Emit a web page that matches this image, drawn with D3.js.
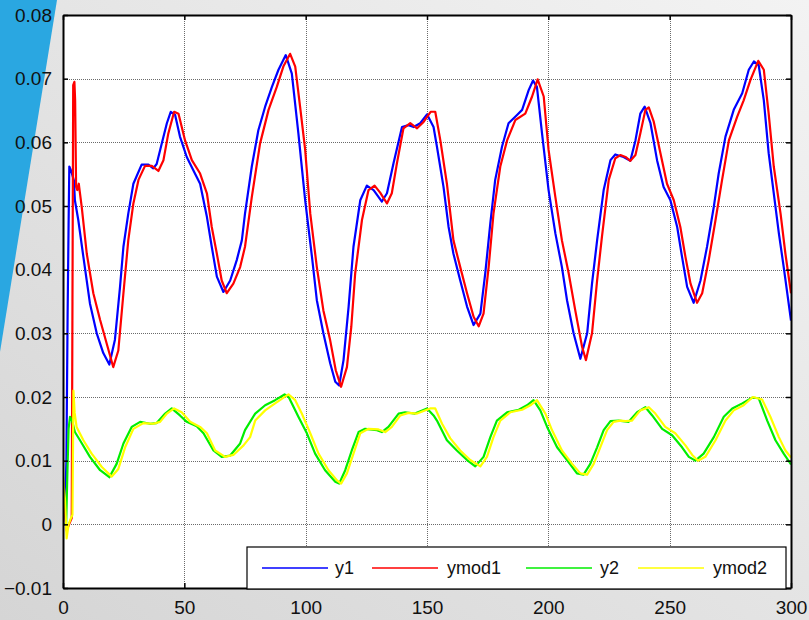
<!DOCTYPE html>
<html>
<head>
<meta charset="utf-8">
<script src="https://cdn.jsdelivr.net/npm/d3@7"></script>
<style>
  html, body { margin: 0; padding: 0; background: #e6e6e6; }
  svg { display: block; }
</style>
</head>
<body>
<svg id="chart" width="809" height="620"></svg>
<script>
// Axis ticks
const xTicks = [0, 50, 100, 150, 200, 250, 300];
const yTicks = [-0.01, 0, 0.01, 0.02, 0.03, 0.04, 0.05, 0.06, 0.07, 0.08];
const seriesNames = ["y1", "ymod1", "y2", "ymod2"];
const seriesColors = ["#0000ff", "#ff0000", "#00ee00", "#ffff00"];

// Series as [time, value] pairs
const y1 = [[0,0.0],[1.0,0.004],[1.4,0.010],[1.9,0.033],[2.3,0.047],[2.6,0.0562],[3.3,0.0556],[4.5,0.054],[4.9,0.0509],[6.3,0.0478],[8.4,0.042],[11.1,0.0347],[13.9,0.030],[16.6,0.0269],[19.1,0.0251],[21.4,0.029],[23.5,0.0373],[24.9,0.0436],[26.9,0.0488],[29,0.0535],[32.4,0.0565],[35.2,0.0565],[37.2,0.0559],[38.6,0.0566],[40.7,0.0598],[42.8,0.063],[44.4,0.0648],[46.2,0.0643],[48.2,0.0609],[51,0.0577],[53.7,0.0556],[56.5,0.0535],[59.3,0.0483],[61.3,0.0436],[63.4,0.0389],[66.1,0.0365],[68.9,0.0383],[71.6,0.0415],[73.7,0.0446],[75,0.0488],[77.8,0.0562],[80.5,0.0619],[83.3,0.0656],[86.1,0.0687],[88.8,0.0714],[91.8,0.0737],[94.3,0.0708],[97,0.0614],[99.8,0.0509],[102.6,0.042],[104.6,0.0352],[107.3,0.030],[110.1,0.0253],[112.2,0.0224],[113.8,0.0218],[115.6,0.0258],[117.7,0.0342],[119.7,0.0436],[122.5,0.0509],[125.2,0.0532],[128,0.0525],[131.4,0.0507],[133.5,0.052],[136.2,0.0567],[139.7,0.0624],[142.4,0.0627],[144.5,0.0624],[147.2,0.063],[150,0.0644],[152.7,0.0624],[154.1,0.0593],[156.8,0.053],[158.9,0.0467],[160.9,0.0425],[163.7,0.0383],[166.5,0.0342],[169.2,0.0313],[172,0.0331],[174,0.0394],[176.1,0.0473],[178.1,0.0541],[180.9,0.0593],[183.6,0.063],[187.1,0.0643],[189.2,0.0651],[191.9,0.0682],[193.7,0.0697],[195.3,0.0687],[197.4,0.0614],[200.1,0.0525],[202.9,0.0457],[205.6,0.0404],[207.7,0.0352],[210.4,0.030],[213.2,0.026],[216,0.030],[218,0.0378],[220.1,0.0446],[222.8,0.0525],[225.6,0.0572],[227.6,0.0581],[231,0.0577],[233.8,0.0571],[235.9,0.0603],[237.9,0.0645],[239.7,0.0656],[242.1,0.063],[244.8,0.0572],[247.5,0.053],[250.3,0.0509],[253.1,0.0467],[255.1,0.042],[257.2,0.0373],[259.9,0.0348],[262.7,0.0383],[265.4,0.0436],[268.2,0.0499],[270.2,0.0551],[273,0.0609],[276.4,0.0651],[279.9,0.0677],[282.6,0.0714],[284.7,0.0727],[286.7,0.0721],[288.8,0.0666],[290.8,0.0583],[292.9,0.052],[295,0.0457],[297,0.0404],[300,0.032]];

const ymod1 = [[0,0.006],[0.8,0.002],[1.5,-0.001],[2.5,0.0],[3.6,0.001],[3.9,0.035],[4.2,0.069],[4.7,0.0695],[5.0,0.0666],[5.4,0.053],[5.9,0.0525],[6.5,0.0535],[7.0,0.052],[7.7,0.0499],[9.8,0.0425],[12.5,0.0363],[15.3,0.0321],[18,0.0284],[20.7,0.0247],[22.8,0.0273],[24.9,0.0363],[26.9,0.0446],[29,0.0504],[31.1,0.0541],[33.8,0.0563],[36.6,0.0563],[39.3,0.0555],[41.4,0.0572],[43.4,0.0614],[45.8,0.0648],[47.6,0.0645],[50.3,0.0603],[53.1,0.0572],[56.5,0.0551],[59.3,0.052],[61.3,0.0467],[63.4,0.0425],[65.4,0.0383],[67.5,0.0363],[70.2,0.0378],[73,0.0404],[75,0.0436],[77.8,0.0514],[81.2,0.0598],[84.7,0.0651],[88.1,0.0687],[90.8,0.0719],[93.6,0.0739],[95.7,0.0719],[97.7,0.0656],[99.8,0.0588],[101.9,0.0488],[104.6,0.0404],[107.3,0.0336],[110.1,0.0289],[112.4,0.0242],[114.6,0.0216],[117,0.0247],[118.8,0.031],[120.4,0.0394],[123.2,0.0478],[125.9,0.0525],[128.4,0.0532],[130.7,0.0521],[133.5,0.0504],[135.5,0.052],[137.6,0.0567],[140.3,0.0622],[143.1,0.063],[145.9,0.0622],[148.6,0.0632],[151.5,0.0648],[153.4,0.0648],[155.5,0.0603],[158.2,0.0535],[160.9,0.0446],[163.7,0.0404],[166.5,0.0363],[169.2,0.0326],[171.3,0.0311],[173.3,0.0331],[175.4,0.0404],[177.4,0.0488],[180.2,0.0562],[183,0.0603],[186.4,0.0635],[190.5,0.0645],[193.3,0.0672],[195.6,0.0699],[198.1,0.0672],[200.1,0.0588],[202.9,0.0514],[205.6,0.0446],[208.4,0.0394],[211.1,0.0336],[213.9,0.0279],[215.5,0.0258],[218,0.030],[220.1,0.0383],[222.1,0.0452],[224.9,0.0541],[227.6,0.0575],[229.7,0.058],[231.8,0.0577],[233.8,0.0571],[235.9,0.058],[237.9,0.0614],[240,0.0651],[241.4,0.0655],[243.4,0.0633],[246.2,0.0583],[248.9,0.0535],[251.7,0.0509],[254.4,0.0467],[256.5,0.042],[258.6,0.0378],[261.3,0.0348],[263.4,0.0363],[266.1,0.0415],[268.9,0.0478],[271.6,0.0541],[274.4,0.0603],[277.8,0.064],[280.5,0.0666],[283.3,0.0698],[286.5,0.0728],[288.8,0.0714],[290.8,0.0645],[292.9,0.0562],[295.7,0.0488],[297.7,0.0425],[300,0.0363]];

const y2 = [[0,0.0],[1.3,0.0],[1.8,0.008],[2.3,0.015],[2.9,0.0169],[3.8,0.0162],[4.9,0.0145],[7,0.0132],[11.1,0.0106],[15.3,0.0085],[19.1,0.0074],[22.1,0.0095],[24.9,0.0127],[28.3,0.0153],[31.8,0.0161],[35.9,0.0158],[38.6,0.0159],[42.1,0.0174],[44.8,0.0182],[48.2,0.0171],[51,0.0161],[55.1,0.0154],[57.9,0.0143],[62,0.0116],[65.4,0.0106],[68.9,0.0108],[73,0.0127],[75,0.0148],[79.2,0.0174],[83.3,0.0187],[87.4,0.0195],[91.3,0.0204],[93,0.0200],[97,0.0169],[100.5,0.0143],[103.9,0.0111],[108,0.0085],[112.2,0.0067],[113.8,0.0064],[116.3,0.0085],[119,0.0116],[121.8,0.0145],[124.5,0.015],[129.4,0.0148],[131.4,0.0145],[134.1,0.0153],[138.3,0.0174],[141,0.0176],[145,0.0174],[150,0.0182],[152.7,0.0171],[154.1,0.0163],[158.2,0.0132],[162.3,0.0116],[166.5,0.0101],[169.9,0.0091],[173.3,0.0106],[176.1,0.0137],[178.8,0.0163],[183,0.0176],[187.8,0.018],[191.2,0.0187],[193.9,0.0195],[196.7,0.0179],[199.5,0.0153],[203.6,0.0121],[207.7,0.0101],[211.8,0.008],[214.5,0.0078],[217.3,0.0095],[220.1,0.0121],[222.8,0.0148],[225.6,0.0162],[229,0.0163],[233.1,0.0161],[236.6,0.0176],[240,0.0184],[242.8,0.0171],[246.9,0.015],[251,0.014],[255.1,0.0121],[257.9,0.0106],[260.6,0.01],[264,0.0111],[268.2,0.0137],[272.3,0.0169],[275.8,0.0182],[279.9,0.019],[284,0.0199],[286.7,0.0198],[290.2,0.0163],[293.6,0.0132],[297,0.0111],[300,0.0094]];

const ymod2 = [[0,0.0075],[0.8,0.004],[1.5,-0.0022],[2.3,0.0],[3.3,0.001],[3.9,0.0015],[4.3,0.021],[4.8,0.0175],[5.6,0.0153],[8.4,0.0132],[11.8,0.0111],[16,0.009],[20.1,0.0075],[22.8,0.0087],[25.6,0.0121],[29,0.015],[33.1,0.0159],[37.2,0.0158],[40,0.0161],[42.8,0.0174],[45.8,0.0182],[48.9,0.0176],[52.4,0.0161],[56.5,0.0153],[59.3,0.0143],[62.7,0.0116],[66.8,0.0106],[70.2,0.0109],[74.4,0.0124],[77.1,0.0137],[79.2,0.0163],[83.3,0.0179],[87.4,0.019],[92.9,0.0204],[95.7,0.0195],[98.4,0.0174],[101.9,0.0143],[105.3,0.0111],[109.4,0.0085],[112.9,0.0069],[114.6,0.0064],[117,0.008],[119.7,0.0111],[122.5,0.0143],[125.9,0.015],[130,0.0149],[132.8,0.0145],[135.5,0.0153],[139,0.0171],[142.4,0.0175],[145.9,0.0174],[151.3,0.0182],[153.4,0.0182],[156.2,0.0158],[159.6,0.0135],[163.7,0.0116],[167.8,0.0101],[172,0.0091],[174.7,0.0106],[177.4,0.0137],[180.2,0.0163],[184.3,0.0176],[189.2,0.018],[192.6,0.0187],[195.3,0.0195],[198.8,0.0174],[201.5,0.0148],[205.6,0.0116],[209.8,0.0095],[213.2,0.008],[216,0.0078],[218.7,0.0095],[221.4,0.0121],[224.2,0.0148],[226.9,0.0161],[229.7,0.0163],[231.8,0.0162],[234.5,0.0163],[237.9,0.0179],[241.4,0.0184],[244.1,0.0174],[248.2,0.0153],[252.3,0.0143],[256.5,0.0124],[259.3,0.0109],[261.7,0.01],[264.7,0.0106],[268.9,0.0132],[273,0.0163],[276.4,0.0179],[280.5,0.0187],[284.3,0.02],[288.1,0.0196],[291.5,0.0169],[295,0.0137],[297.7,0.0116],[300,0.0105]];

const svg = d3.select("#chart");
const W = 809, H = 620;
const plot = { left: 63, right: 791, top: 15, bottom: 588 };

// Slide-style backdrop: soft grey gradient with a blue diagonal band on the left
const defs = svg.append("defs");
const bg = defs.append("linearGradient").attr("id", "bgGrad")
  .attr("x1", "0%").attr("y1", "100%").attr("x2", "100%").attr("y2", "0%");
bg.append("stop").attr("offset", "0%").attr("stop-color", "#d5d5d5");
bg.append("stop").attr("offset", "100%").attr("stop-color", "#f3f3f3");
svg.append("rect").attr("width", W).attr("height", H).attr("fill", "url(#bgGrad)");
svg.append("path").attr("d", "M0,0 L57,0 L0,352 Z").attr("fill", "#2aa7e1");

defs.append("clipPath").attr("id", "plotClip").append("rect")
  .attr("x", plot.left).attr("y", plot.top)
  .attr("width", plot.right - plot.left).attr("height", plot.bottom - plot.top);

const x = d3.scaleLinear().domain([0, 300]).range([plot.left, plot.right]);
const y = d3.scaleLinear().domain([-0.01, 0.08]).range([plot.bottom, plot.top]);

// Plot area
svg.append("rect").attr("x", plot.left).attr("y", plot.top)
  .attr("width", plot.right - plot.left).attr("height", plot.bottom - plot.top)
  .attr("fill", "#ffffff");

// Dotted grid
const grid = svg.append("g").attr("stroke", "#6a6a6a").attr("stroke-width", 1)
  .attr("stroke-dasharray", "1,1").attr("shape-rendering", "crispEdges");
grid.selectAll("line.gx").data(xTicks.filter(d => d > 0 && d < 300)).join("line")
  .attr("x1", d => Math.round(x(d)) + 0.5).attr("x2", d => Math.round(x(d)) + 0.5)
  .attr("y1", plot.top).attr("y2", plot.bottom);
grid.selectAll("line.gy").data(yTicks.filter(d => d > -0.01 && d < 0.08)).join("line")
  .attr("y1", d => Math.round(y(d)) + 0.5).attr("y2", d => Math.round(y(d)) + 0.5)
  .attr("x1", plot.left).attr("x2", plot.right);

// Data lines
const line = d3.line().x(d => x(d[0])).y(d => y(d[1])).curve(d3.curveLinear);
const seriesData = [y1, ymod1, y2, ymod2];
svg.append("g").attr("clip-path", "url(#plotClip)")
  .selectAll("path").data(seriesData).join("path")
  .attr("d", line)
  .attr("fill", "none")
  .attr("stroke", (d, i) => seriesColors[i])
  .attr("stroke-width", 2.2)
  .attr("stroke-linejoin", "round");

// Axes with inward ticks on all four sides
const fmtY = d => d === 0 ? "0" : d3.format(".2f")(d);
const axisFont = "'Liberation Sans', Arial, sans-serif";

const leftAxis = svg.append("g").attr("transform", `translate(${plot.left},0)`)
  .call(d3.axisLeft(y).tickValues(yTicks).tickFormat(fmtY).tickSizeInner(-5).tickSizeOuter(0).tickPadding(11));
const rightAxis = svg.append("g").attr("transform", `translate(${plot.right},0)`)
  .call(d3.axisRight(y).tickValues(yTicks).tickFormat("").tickSizeInner(-5).tickSizeOuter(0));
const bottomAxis = svg.append("g").attr("transform", `translate(0,${plot.bottom})`)
  .call(d3.axisBottom(x).tickValues(xTicks).tickFormat(d3.format("d")).tickSizeInner(-5).tickSizeOuter(0).tickPadding(13));
const topAxis = svg.append("g").attr("transform", `translate(0,${plot.top})`)
  .call(d3.axisTop(x).tickValues(xTicks).tickFormat("").tickSizeInner(-5).tickSizeOuter(0));

[leftAxis, rightAxis, bottomAxis, topAxis].forEach(g => {
  g.select(".domain").attr("stroke", "#000").attr("stroke-width", 2);
  g.selectAll(".tick line").attr("stroke", "#000").attr("stroke-width", 1.5);
  g.selectAll(".tick text").attr("fill", "#111").style("font-family", axisFont).style("font-size", "19px");
});

// Legend box along the bottom of the plot
const legend = { x0: 247, y0: 547, x1: 786, y1: 589 };
const lg = svg.append("g");
lg.append("rect").attr("x", legend.x0).attr("y", legend.y0)
  .attr("width", legend.x1 - legend.x0).attr("height", legend.y1 - legend.y0)
  .attr("fill", "#ffffff").attr("stroke", "#000").attr("stroke-width", 1.2);
const legendItems = [
  { lx: 262, text: 335 },
  { lx: 372, text: 447 },
  { lx: 526, text: 600 },
  { lx: 638, text: 713 }
];
const legendMid = 568;
legendItems.forEach((it, i) => {
  lg.append("line").attr("x1", it.lx).attr("x2", it.lx + 66)
    .attr("y1", legendMid).attr("y2", legendMid)
    .attr("stroke", seriesColors[i]).attr("stroke-width", 1.3);
  lg.append("text").attr("x", it.text).attr("y", legendMid)
    .attr("dy", "0.35em")
    .style("font-family", axisFont).style("font-size", "18px")
    .attr("fill", "#111").text(seriesNames[i]);
});
</script>
</body>
</html>
